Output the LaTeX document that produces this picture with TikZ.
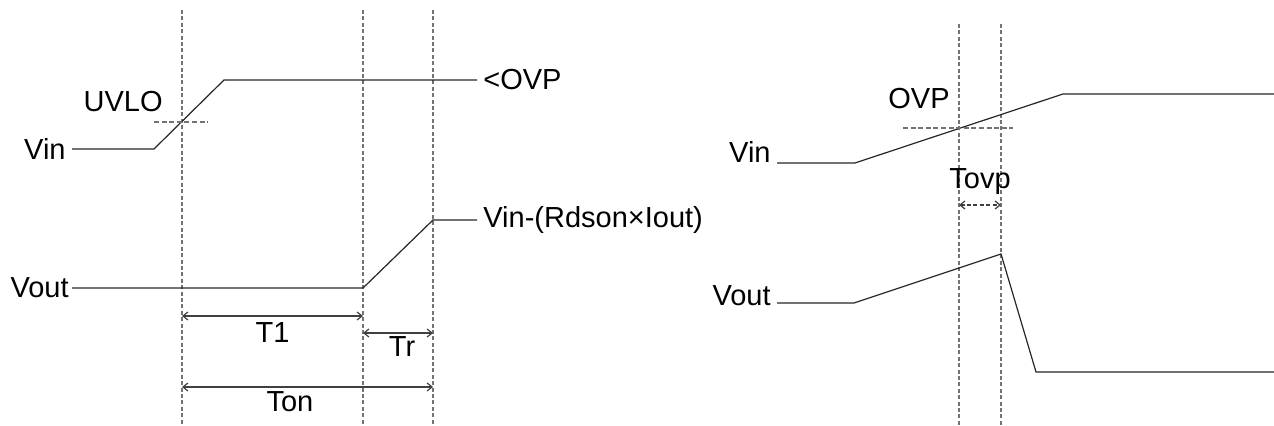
\documentclass[tikz,border=0pt]{standalone}
\usepackage{fontspec}
\setmainfont{Liberation Sans}
\usetikzlibrary{positioning,arrows,arrows.meta}

\begin{document}
\begin{tikzpicture}[x=0.5pt,y=-0.5pt,font=\fontsize{14.5}{17}\selectfont]
    \tikzstyle{wave}=[line width=0.6pt, draw=black!85]
    \tikzstyle{guide}=[line width=0.6pt, draw=black!55, dash pattern=on 2pt off 1.2pt]
    \tikzstyle{level}=[line width=0.6pt, draw=black!55, dash pattern=on 2.5pt off 1.3pt]
    \tikzstyle{span}=[line width=0.6pt, draw=black!75, {Straight Barb[length=2.5pt,width=4pt]}-{Straight Barb[length=2.5pt,width=4pt]}]
    \tikzstyle{lbl}=[inner xsep=3pt, inner ysep=0pt]
    \useasboundingbox (0,0) rectangle (1274,426);

    % vertical time markers
    \foreach \gname/\gx/\gy in {uv/182/10, ton/363/10, tend/433/10, ovp/959/24, trip/1001/24} {
        \coordinate (\gname top) at (\gx,\gy);
        \coordinate (\gname bot) at (\gx,426);
        \draw[guide] (\gname top) -- (\gname bot);
    }

    % left: start-up
    \coordinate (a1) at (72,149);
    \coordinate (a2) at (154,149);
    \coordinate (a3) at (224,80);
    \coordinate (a4) at (477,80);
    \draw[wave] (a1) -- (a2) -- (a3) -- (a4);
    \node[lbl,anchor=east] (vinA) at (a1) {Vin};
    \node[lbl,anchor=west] (ovpA) at (a4) {<OVP};

    \coordinate (u1) at (154,122);
    \coordinate (u2) at (208,122);
    \draw[level] (u1) -- (u2);
    \node[lbl,anchor=base east] (uvlo) at (169,112) {UVLO};

    \coordinate (b1) at (72,288);
    \coordinate (b2) at (363,288);
    \coordinate (b3) at (433,220);
    \coordinate (b4) at (477,220);
    \draw[wave] (b1) -- (b2) -- (b3) -- (b4);
    \node[lbl,anchor=east,inner xsep=1.5pt] (voutB) at (b1) {Vout};
    \node[lbl,anchor=west] (dropB) at (b4) {Vin-(Rdson×Iout)};

    \coordinate (t1a) at (182,316);
    \coordinate (t1b) at (363,316);
    \coordinate (tra) at (363,333);
    \coordinate (trb) at (433,333);
    \coordinate (tna) at (182,387);
    \coordinate (tnb) at (433,387);
    \draw[span] (t1a) -- (t1b) node[midway,below,inner ysep=3pt] (T1) {T1};
    \draw[span] (tra) -- (trb) node[midway,below,inner ysep=1.5pt,xshift=2pt] (Tr) {Tr};
    \draw[span] (tna) -- (tnb) node[pos=0.43,below,inner ysep=2pt] (Ton) {Ton};

    % right: over-voltage
    \coordinate (c1) at (777,163);
    \coordinate (c2) at (855,163);
    \coordinate (c3) at (1063,94);
    \coordinate (c4) at (1274,94);
    \draw[wave] (c1) -- (c2) -- (c3) -- (c4);
    \node[lbl,anchor=south east] (vinC) at (c1) {Vin};

    \coordinate (o1) at (903,128);
    \coordinate (o2) at (1013,128);
    \draw[level] (o1) -- (o2);
    \node[lbl,anchor=base east] (ovpC) at (956,109) {OVP};

    \coordinate (p1) at (959,205);
    \coordinate (p2) at (1001,205);
    \draw[span,dash pattern=on 2pt off 1.2pt] (p1) -- (p2) node[midway,above,inner ysep=5pt] (Tovp) {Tovp};

    \coordinate (d1) at (777,303);
    \coordinate (d2) at (854,303);
    \coordinate (d3) at (1001,254);
    \coordinate (d4) at (1036,372);
    \coordinate (d5) at (1274,372);
    \draw[wave] (d1) -- (d2) -- (d3) -- (d4) -- (d5);
    \node[lbl,anchor=east] (voutD) at (777,296) {Vout};
\end{tikzpicture}
\end{document}
